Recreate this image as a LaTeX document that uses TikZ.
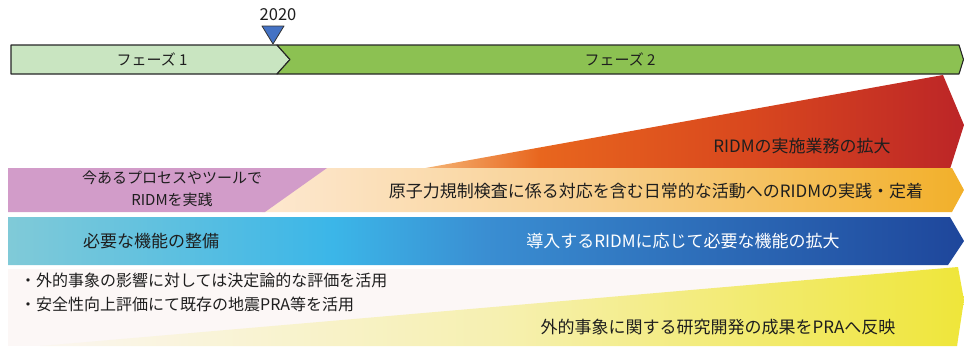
\documentclass[tikz,border=0pt]{standalone}
\usepackage{fontspec}
\setmainfont{Noto Sans CJK JP}
\usetikzlibrary{positioning}
\definecolor{txt}{HTML}{1E1E1E}
\definecolor{ph1}{HTML}{C9E5C1}
\definecolor{ph2}{HTML}{8CC152}
\definecolor{mark}{HTML}{4472C4}
\definecolor{purp}{HTML}{D29CC9}
\definecolor{bgpink}{HTML}{FCF7F6}
% blue band
\definecolor{blA}{HTML}{80CAD8}
\definecolor{blB}{HTML}{3BB6E8}
\definecolor{blC}{HTML}{3A8ED2}
\definecolor{blD}{HTML}{1E469B}
% red wedge
\definecolor{rdA}{HTML}{F5B878}
\definecolor{rdB}{HTML}{E8661E}
\definecolor{rdC}{HTML}{D9481E}
\definecolor{rdD}{HTML}{BC2527}
% orange band
\definecolor{orA}{HTML}{FDE8D0}
\definecolor{orB}{HTML}{F8D090}
\definecolor{orC}{HTML}{F2B02A}
% yellow wedge
\definecolor{ylA}{HTML}{FBF6F0}
\definecolor{ylB}{HTML}{F6F0B0}
\definecolor{ylC}{HTML}{EFE63A}
\pgfdeclarehorizontalshading{blueshade}{100bp}{color(0bp)=(blA); color(25bp)=(blA); color(42bp)=(blB); color(50bp)=(blC); color(75bp)=(blD); color(100bp)=(blD)}
\pgfdeclarehorizontalshading{redshade}{100bp}{color(0bp)=(rdA); color(25bp)=(rdA); color(36bp)=(rdB); color(55bp)=(rdC); color(75bp)=(rdD); color(100bp)=(rdD)}
\pgfdeclarehorizontalshading{orangeshade}{100bp}{color(0bp)=(orA); color(25bp)=(orA); color(48bp)=(orB); color(75bp)=(orC); color(100bp)=(orC)}
\pgfdeclarehorizontalshading{yellowshade}{100bp}{color(0bp)=(ylA); color(25bp)=(ylA); color(50bp)=(ylB); color(75bp)=(ylC); color(100bp)=(ylC)}
\tikzset{
  phasebar/.style={draw=black!85, line width=1.1pt, line join=round},
  lbl/.style={text=txt, inner sep=0pt, font=\fontsize{17}{20}\selectfont},
  phlbl/.style={text=txt, inner sep=0pt, font=\fontsize{15}{18}\selectfont},
  bul/.style={text=txt, inner sep=0pt, anchor=west, font=\fontsize{16}{19}\selectfont},
}
\begin{document}
\begin{tikzpicture}[x=1pt,y=-1pt]
\useasboundingbox (0,0) rectangle (964,348);
% timeline
\draw[phasebar, fill=ph1] (11,45) -- (277,45) -- (290,59.5) -- (277,74) -- (11,74) -- cycle;
\draw[phasebar, fill=ph2] (277,45) -- (959,45) -- (963.5,59.5) -- (959,74) -- (277,74) -- (290,59.5) -- cycle;
\draw[draw=black!80, line width=0.8pt, fill=mark, line join=round] (262,26) -- (284,26) -- (273,44) -- cycle;
\node[phlbl, font=\fontsize{16.5}{18}\selectfont] (y2020) at (278,15) {2020};
\node[phlbl] (p1) at (152,59.5) {フェーズ 1};
\node[phlbl] (p2) at (620,59.5) {フェーズ 2};
% red wedge
\shade[shading=redshade] (420,169) -- (943,75) -- (964,125) -- (950,169) -- cycle;
% orange band
\shade[shading=orangeshade] (262,168) -- (952,168) -- (964,190) -- (952,212) -- (262,212) -- cycle;
% purple box
\fill[purp] (8,168) -- (327,168) -- (265,212) -- (8,212) -- cycle;
% blue band
\shade[shading=blueshade] (8,217) -- (950,217) -- (964,241) -- (948,265) -- (8,265) -- cycle;
% bottom background and yellow wedge
\fill[bgpink] (8,269) rectangle (958,346);
\shade[shading=yellowshade] (40,346) -- (958,267) -- (964,300) -- (957,346) -- cycle;
% labels
\node[lbl] (red) at (802,146) {RIDMの実施業務の拡大};
\node[lbl, align=center, font=\fontsize{15}{22}\selectfont] (purpl) at (172,189) {今あるプロセスやツールで\\RIDMを実践};
\node[lbl] (orng) at (656,191) {原子力規制検査に係る対応を含む日常的な活動へのRIDMの実践・定着};
\node[lbl] (bl1) at (151,241) {必要な機能の整備};
\node[lbl, text=white] (bl2) at (683,241) {導入するRIDMに応じて必要な機能の拡大};
\node[bul] (b1) at (20,280) {・外的事象の影響に対しては決定論的な評価を活用};
\node[bul] (b2) at (20,304) {・安全性向上評価にて既存の地震PRA等を活用};
\node[lbl] (yl) at (718,327) {外的事象に関する研究開発の成果をPRAへ反映};
\end{tikzpicture}
\end{document}
